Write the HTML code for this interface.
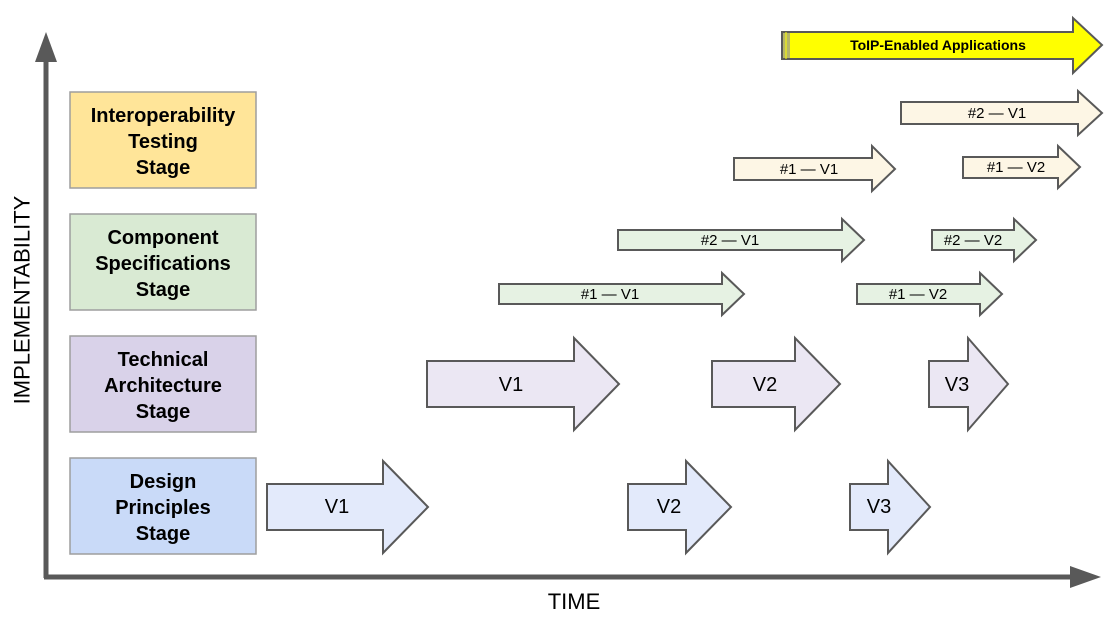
<!DOCTYPE html>
<html><head><meta charset="utf-8"><style>
html,body{margin:0;padding:0;background:#fff;}
svg{display:block;font-family:"Liberation Sans",Arial,sans-serif;}
</style></head><body>
<svg width="1118" height="624" viewBox="0 0 1118 624" xmlns="http://www.w3.org/2000/svg">
<!-- axes -->
<line x1="46" y1="60" x2="46" y2="578" stroke="#595959" stroke-width="5"/>
<polygon points="46,32 35,62 57,62" fill="#595959"/>
<line x1="44" y1="577" x2="1072" y2="577" stroke="#595959" stroke-width="5"/>
<polygon points="1101,577 1070,566 1070,588" fill="#595959"/>
<text x="22" y="300" font-size="22" text-anchor="middle" dominant-baseline="central" transform="rotate(-90 22 300)" fill="#000">IMPLEMENTABILITY</text>
<text x="574" y="609" font-size="22" text-anchor="middle" fill="#000">TIME</text>

<!-- stage boxes -->
<g stroke="#9e9e9e" stroke-width="1.5" font-weight="bold" font-size="20" text-anchor="middle" fill="#000">
<rect x="70" y="92" width="186" height="96" fill="#ffe599"/>
<rect x="70" y="214" width="186" height="96" fill="#d9ead3"/>
<rect x="70" y="336" width="186" height="96" fill="#d9d2e9"/>
<rect x="70" y="458" width="186" height="96" fill="#c9daf8"/>
</g>
<g font-weight="bold" font-size="20" text-anchor="middle" fill="#000">
<text x="163" y="122">Interoperability</text><text x="163" y="148">Testing</text><text x="163" y="174">Stage</text>
<text x="163" y="244">Component</text><text x="163" y="270">Specifications</text><text x="163" y="296">Stage</text>
<text x="163" y="366">Technical</text><text x="163" y="392">Architecture</text><text x="163" y="418">Stage</text>
<text x="163" y="488">Design</text><text x="163" y="514">Principles</text><text x="163" y="540">Stage</text>
</g>

<!-- arrows: helper pattern x0,hb,tip,yc,bh,hh -->
<g stroke="#595959" stroke-width="2" stroke-linejoin="miter">
<!-- design -->
<polygon fill="#e3eafb" points="267,484 383,484 383,461 428,507 383,553 383,530 267,530"/>
<polygon fill="#e3eafb" points="628,484 686,484 686,461 731,507 686,553 686,530 628,530"/>
<polygon fill="#e3eafb" points="850,484 888,484 888,461 930,507 888,553 888,530 850,530"/>
<!-- tech -->
<polygon fill="#ebe7f3" points="427,361 574,361 574,338 619,384 574,430 574,407 427,407"/>
<polygon fill="#ebe7f3" points="712,361 795,361 795,338 840,384 795,430 795,407 712,407"/>
<polygon fill="#ebe7f3" points="929,361 968,361 968,338 1008,384 968,430 968,407 929,407"/>
<!-- comp -->
<polygon fill="#e6f2e3" points="499,284 722,284 722,273 744,294 722,315 722,304 499,304"/>
<polygon fill="#e6f2e3" points="857,284 980,284 980,273 1002,294 980,315 980,304 857,304"/>
<polygon fill="#e6f2e3" points="618,230 842,230 842,219 864,240 842,261 842,250 618,250"/>
<polygon fill="#e6f2e3" points="932,230 1014,230 1014,219 1036,240 1014,261 1014,250 932,250"/>
<!-- interop -->
<polygon fill="#fdf6e5" points="734,158 872,158 872,146 895,169 872,191 872,180 734,180"/>
<polygon fill="#fdf6e5" points="963,157 1058,157 1058,146 1080,167 1058,188 1058,178 963,178"/>
<polygon fill="#fdf6e5" points="901,102 1078,102 1078,91 1102,113 1078,135 1078,124 901,124"/>
<!-- toip -->
<polygon fill="#ffff00" points="782,32 1073,32 1073,18 1102,45 1073,73 1073,59 782,59"/>
</g>
<rect x="783" y="33" width="7" height="25" fill="#b5b56a"/>
<line x1="786" y1="32" x2="786" y2="59" stroke="#ffff00" stroke-width="1"/>

<g font-size="15" text-anchor="middle" fill="#000">
<text x="337" y="513" font-size="20">V1</text>
<text x="669" y="513" font-size="20">V2</text>
<text x="879" y="513" font-size="20">V3</text>
<text x="511" y="391" font-size="20">V1</text>
<text x="765" y="391" font-size="20">V2</text>
<text x="957" y="391" font-size="20">V3</text>
<text x="610" y="299">#1 — V1</text>
<text x="918" y="299">#1 — V2</text>
<text x="730" y="245">#2 — V1</text>
<text x="973" y="245">#2 — V2</text>
<text x="809" y="174">#1 — V1</text>
<text x="1016" y="172">#1 — V2</text>
<text x="997" y="118">#2 — V1</text>
<text x="938" y="50" font-weight="bold" font-size="14">ToIP-Enabled Applications</text>
</g>
</svg>
</body></html>
